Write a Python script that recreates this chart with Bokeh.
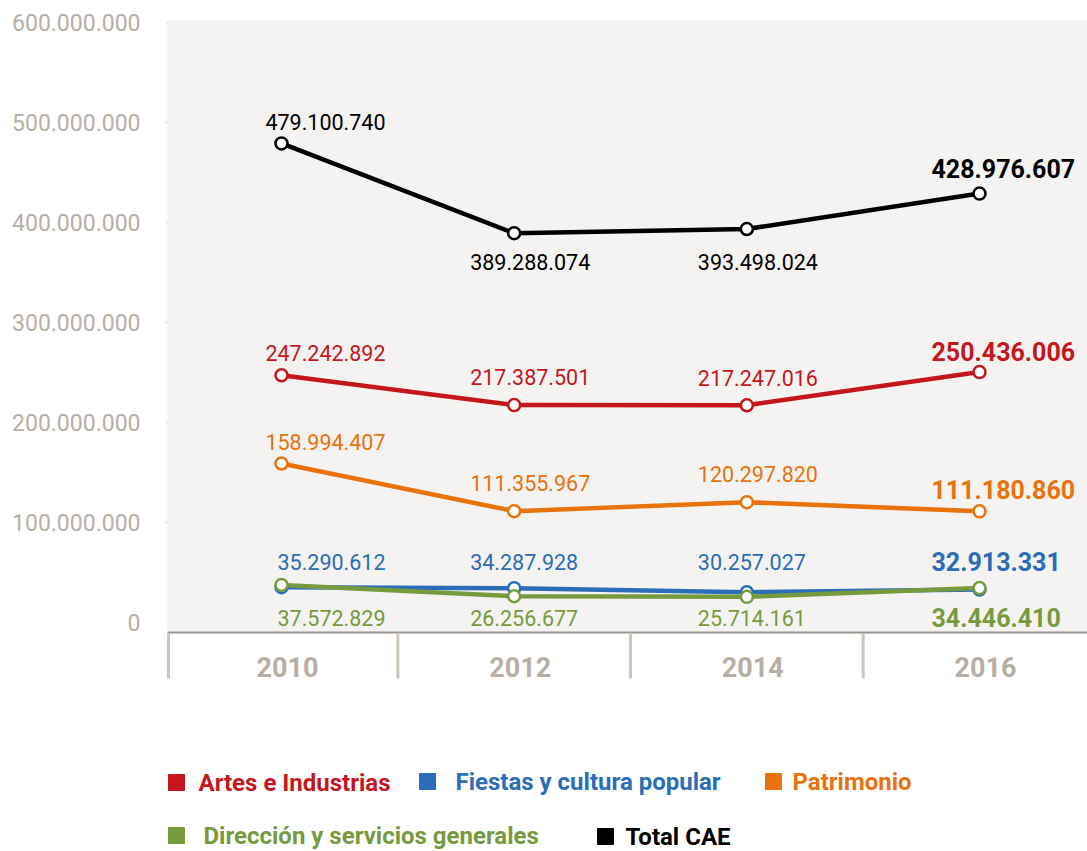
from bokeh.plotting import figure
from bokeh.models import FixedTicker, Range1d, BoxAnnotation
from bokeh.core.properties import value
from bokeh.embed import file_html
from bokeh.resources import INLINE

# ---- data ----
years = ["2010", "2012", "2014", "2016"]
total_cae = [479100740, 389288074, 393498024, 428976607]
artes = [247242892, 217387501, 217247016, 250436006]
patrimonio = [158994407, 111355967, 120297820, 111180860]
fiestas = [35290612, 34287928, 30257027, 32913331]
direccion = [37572829, 26256677, 25714161, 34446410]
y_ticks = [0, 100000000, 200000000, 300000000, 400000000, 500000000, 600000000]
y_tick_labels = ["0", "100.000.000", "200.000.000", "300.000.000",
                 "400.000.000", "500.000.000", "600.000.000"]
legend_row1 = ["Artes e Industrias", "Fiestas y cultura popular", "Patrimonio"]
legend_row2 = ["Dirección y servicios generales", "Total CAE"]

RED = "#c4161c"
BLUE = "#2b6db8"
ORANGE = "#e8720c"
GREEN = "#789a3f"
BLACK = "#000000"
GRAYTXT = "#b7afa5"
FONT = "Roboto"

def fmt(v):
    return f"{v:,}".replace(",", ".")

W, H = 1087, 851
FL, FT = 165, 14  # frame left/top in page pixels
SCALE_X = 232.67
X0 = 281

def px2x(px):
    return (px - X0) / SCALE_X

def py2y(py):
    return (622 - py) * 1e6

p = figure(width=W, height=H, output_backend="svg", toolbar_location=None,
           x_range=Range1d(px2x(FL), px2x(W)),
           y_range=Range1d(py2y(H), py2y(FT)),
           min_border_left=FL, min_border_top=FT,
           min_border_right=0, min_border_bottom=0)
p.outline_line_color = None
p.background_fill_color = "white"
p.border_fill_color = "white"
p.xaxis.visible = False
p.xgrid.visible = False

# y axis
p.yaxis.ticker = FixedTicker(ticks=y_ticks)
p.yaxis.major_label_overrides = {t: l for t, l in zip(y_ticks, y_tick_labels)}
p.yaxis.axis_line_color = None
p.yaxis.major_tick_line_color = None
p.yaxis.minor_tick_line_color = None
p.yaxis.major_tick_out = 0
p.yaxis.major_label_standoff = 25
p.yaxis.major_label_text_font = FONT
p.yaxis.major_label_text_font_size = "23px"
p.yaxis.major_label_text_color = GRAYTXT

p.ygrid.ticker = FixedTicker(ticks=y_ticks[1:])
p.ygrid.grid_line_color = "#e3e0d9"
p.ygrid.grid_line_width = 2
p.ygrid.grid_line_dash = "9 5"

# gray plotting background
p.add_layout(BoxAnnotation(bottom=py2y(632), top=py2y(20), left=px2x(167),
                           fill_color="#f4f3f1", fill_alpha=1, line_color=None,
                           level="underlay"))
# baseline
p.segment(x0=[px2x(167)], y0=[py2y(632)], x1=[px2x(W)], y1=[py2y(632)],
          line_color="#9a948d", line_width=2)
# category separators
seps = [px2x(168)] + [i + 0.5 for i in range(len(years) - 1)]
p.segment(x0=seps, y0=[py2y(633)] * len(seps), x1=seps, y1=[py2y(678)] * len(seps),
          line_color="#cdc6bc", line_width=3)
# year labels
xs = list(range(len(years)))
p.text(x=xs, y=[py2y(666)] * len(xs), text=years, text_align="center",
       text_baseline="middle", x_offset=6, text_font=value(FONT),
       text_font_style="bold", text_font_size="27px", text_color=GRAYTXT)

# label placement per column: (align, x offset in px)
col_anchor = [("right", 104), ("left", -44), ("left", -49), ("left", -48)]

# series: values, colour, per-point vertical label offsets (px) or fixed label row (px)
series = [
    (total_cae, BLACK, [-21, 29, 33, -25], None),
    (artes, RED, [-22, -28, -27, -21], None),
    (patrimonio, ORANGE, [-22, -28, -28, -22], None),
    (fiestas, BLUE, None, 561),
    (direccion, GREEN, None, 617),
]

for vals, col, offs, fixed in series:
    p.line(xs, vals, line_color=col, line_width=4.5)
for vals, col, offs, fixed in series:
    p.scatter(xs, vals, marker="circle", size=12, fill_color="white",
              line_color=col, line_width=2.5)
for vals, col, offs, fixed in series:
    for i, v in enumerate(vals):
        bold = i == len(vals) - 1
        align, dx = col_anchor[i]
        if fixed is None:
            ly, dy = v, offs[i]
        else:
            ly, dy = py2y(fixed), 0
        p.text(x=[i], y=[ly], text=[fmt(v)], text_align=align,
               text_baseline="middle", x_offset=dx, y_offset=dy,
               text_font=value(FONT), text_font_style="bold" if bold else "normal",
               text_font_size="25px" if bold else "21.5px", text_color=col)

# legend
leg_items = [
    (legend_row1[0], RED, 176, 198, 782),
    (legend_row1[1], BLUE, 427, 455, 781),
    (legend_row1[2], ORANGE, 773, 792, 781),
    (legend_row2[0], GREEN, 176, 203, 835),
    (legend_row2[1], BLACK, 605, 625, 836),
]
for label, col, sx, tx, ly in leg_items:
    p.scatter([px2x(sx)], [py2y(ly)], marker="square", size=16, fill_color=col,
              line_color=col, line_width=1)
    p.text(x=[px2x(tx)], y=[py2y(ly)], text=[label], text_align="left",
           text_baseline="middle", text_font=value(FONT), text_font_style="bold",
           text_font_size="24px", text_color=col)

open("out.html", "w").write(file_html(p, INLINE))
